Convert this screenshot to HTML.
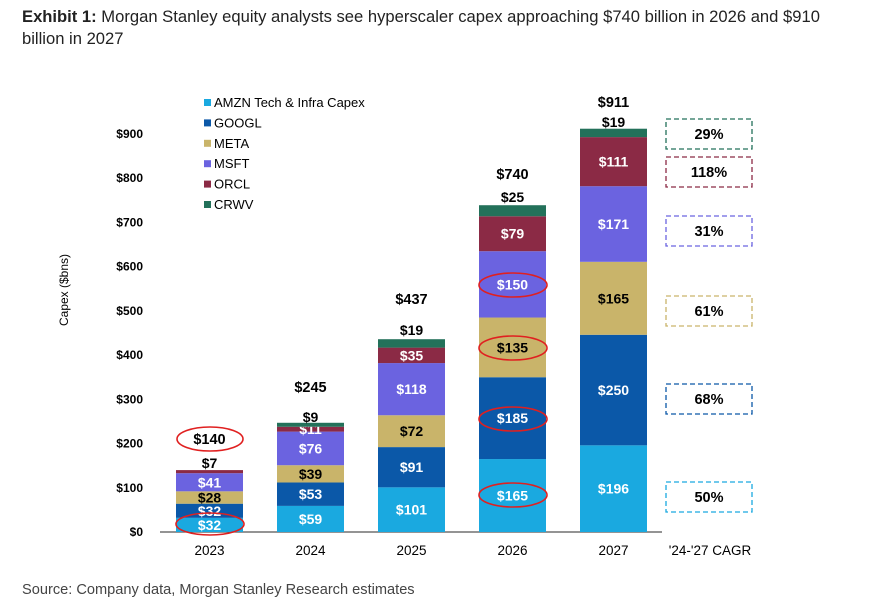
<!DOCTYPE html>
<html><head><meta charset="utf-8"><style>
html,body{margin:0;padding:0;background:#fff;width:870px;height:608px;overflow:hidden}
svg{display:block}
text{font-family:"Liberation Sans",Arial,sans-serif}
</style></head><body>
<svg id="s" width="870" height="608" xmlns="http://www.w3.org/2000/svg">
<text x="22" y="22" font-size="16.6" fill="#222"><tspan font-weight="bold">Exhibit 1:</tspan> Morgan Stanley equity analysts see hyperscaler capex approaching $740 billion in 2026 and $910</text>
<text x="22" y="44" font-size="16.6" fill="#222">billion in 2027</text>
<text x="22" y="594" font-size="14.6" fill="#444">Source: Company data, Morgan Stanley Research estimates</text>
<text transform="translate(68,290) rotate(-90)" font-size="12" text-anchor="middle" fill="#000">Capex ($bns)</text>
</svg>
<script>
const s=document.getElementById('s');const NS='http://www.w3.org/2000/svg';
function el(t,a,txt){const e=document.createElementNS(NS,t);for(const k in a)e.setAttribute(k,a[k]);if(txt!==undefined)e.textContent=txt;s.appendChild(e);return e;}
const y0=532,k=0.4422;
for(let v=0;v<=900;v+=100){el('text',{x:143,y:y0-v*k+4,'font-size':12,'font-weight':'bold','text-anchor':'end',fill:'#000'},'$'+v);}
el('line',{x1:160,y1:y0,x2:662,y2:y0,stroke:'#555','stroke-width':1.2});
const cols=['#1aa9e0','#0b58a8','#c9b46a','#6b63e0','#8b2a45','#23715a'];
const names=['AMZN Tech & Infra Capex','GOOGL','META','MSFT','ORCL','CRWV'];
names.forEach((n,i)=>{const y=103+i*20.4;el('rect',{x:204,y:y-4,width:7,height:7,fill:cols[i]});el('text',{x:214,y:y+4,'font-size':13,fill:'#000'},n);});
const data=[[32,32,28,41,7,0],[59,53,39,76,11,9],[101,91,72,118,35,19],[165,185,135,150,79,25],[196,250,165,171,111,19]];
const xs=[176,277,378,479,580],yrs=['2023','2024','2025','2026','2027'];
const tot=[140,245,437,740,911];
const topL=[[7,463,439],[9,417,387],[19,330,299],[25,197,174],[19,122,102]];
data.forEach((d,b)=>{let acc=0;const x=xs[b];
 d.forEach((v,i)=>{if(!v)return;const yt=y0-(acc+v)*k,h=v*k;el('rect',{x:x,y:yt,width:67,height:h,fill:cols[i]});
  if(i<5){ if(!(i==4&&b==0)){const c=i==2?'#000':'#fff';el('text',{x:x+33.5,y:yt+h/2+5,'font-size':14,'font-weight':'bold','text-anchor':'middle',fill:c},'$'+v);} }
  acc+=v;});
 el('text',{x:x+33.5,y:topL[b][1]+5,'font-size':14,'font-weight':'bold','text-anchor':'middle',fill:'#000'},'$'+topL[b][0]);
 el('text',{x:x+33.5,y:topL[b][2]+5,'font-size':14.5,'font-weight':'bold','text-anchor':'middle',fill:'#000'},'$'+tot[b]);
 el('text',{x:x+33.5,y:555,'font-size':13.5,'text-anchor':'middle',fill:'#000'},yrs[b]);
});
el('text',{x:710,y:555,'font-size':13.5,'text-anchor':'middle',fill:'#000'},"'24-'27 CAGR");
const boxes=[['29%',119,'#23715a'],['118%',157,'#8b2a45'],['31%',216,'#6b63e0'],['61%',296,'#c9b46a'],['68%',384,'#0b58a8'],['50%',482,'#1aa9e0']];
boxes.forEach(b=>{el('rect',{x:666,y:b[1],width:86,height:30,fill:'none',stroke:b[2],'stroke-width':1.3,'stroke-dasharray':'5,3'});
 el('text',{x:709,y:b[1]+20,'font-size':14.5,'font-weight':'bold','text-anchor':'middle',fill:'#000'},b[0]);});
[[210,439,33,12],[210,524,34,11],[513,285,34,12],[513,348,34,12],[513,419,34,12],[513,495,34,12]].forEach(e=>el('ellipse',{cx:e[0],cy:e[1],rx:e[2],ry:e[3],fill:'none',stroke:'#e02020','stroke-width':1.6}));
</script>
</body></html>
